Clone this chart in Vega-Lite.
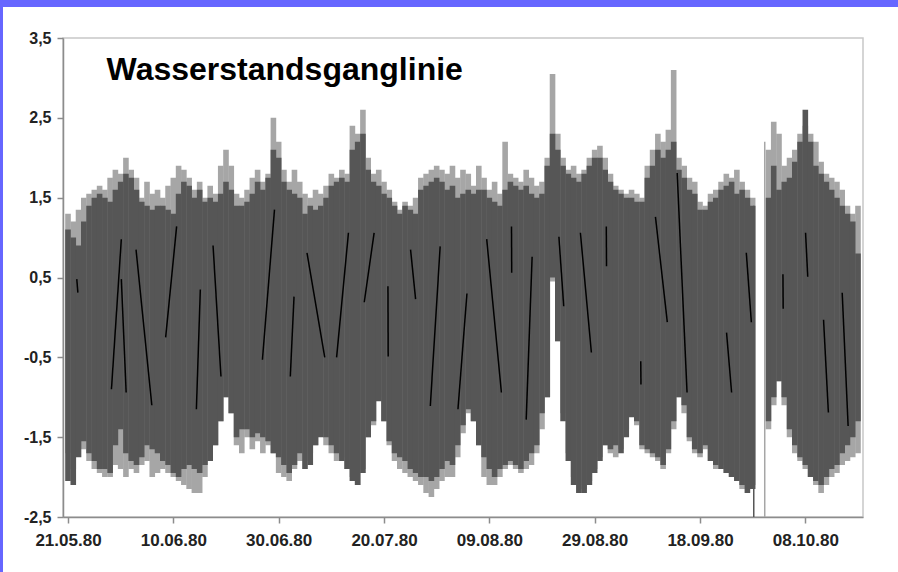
{
  "$schema": "https://vega.github.io/schema/vega-lite/v6.json",
  "padding": 0,
  "background": "white",
  "bounds": "flush",
  "spacing": 0,
  "config": {"view": {"stroke": null}, "concat": {"spacing": 0}},
  "datasets": {
    "days": [
      {"t":"1980-05-21","lh":1.3,"ll":-1.7,"dh":1.1,"dl":-2.05},
      {"t":"1980-05-22","lh":1.2,"ll":-1.9,"dh":1.0,"dl":-2.1},
      {"t":"1980-05-23","lh":1.35,"ll":-1.6,"dh":0.9,"dl":-1.75},
      {"t":"1980-05-24","lh":1.5,"ll":-1.65,"dh":1.2,"dl":-1.55},
      {"t":"1980-05-25","lh":1.55,"ll":-1.8,"dh":1.4,"dl":-1.7},
      {"t":"1980-05-26","lh":1.6,"ll":-1.9,"dh":1.5,"dl":-1.8},
      {"t":"1980-05-27","lh":1.65,"ll":-1.95,"dh":1.55,"dl":-1.9},
      {"t":"1980-05-28","lh":1.6,"ll":-2.0,"dh":1.5,"dl":-1.9},
      {"t":"1980-05-29","lh":1.75,"ll":-2.0,"dh":1.45,"dl":-1.95},
      {"t":"1980-05-30","lh":1.85,"ll":-1.85,"dh":1.6,"dl":-1.6},
      {"t":"1980-05-31","lh":1.8,"ll":-1.9,"dh":1.7,"dl":-1.4},
      {"t":"1980-06-01","lh":2.0,"ll":-2.0,"dh":1.8,"dl":-1.7},
      {"t":"1980-06-02","lh":1.85,"ll":-1.9,"dh":1.75,"dl":-1.8},
      {"t":"1980-06-03","lh":1.75,"ll":-1.95,"dh":1.6,"dl":-1.85},
      {"t":"1980-06-04","lh":1.5,"ll":-1.85,"dh":1.45,"dl":-1.75},
      {"t":"1980-06-05","lh":1.7,"ll":-1.8,"dh":1.4,"dl":-1.6},
      {"t":"1980-06-06","lh":1.55,"ll":-2.0,"dh":1.35,"dl":-1.65},
      {"t":"1980-06-07","lh":1.6,"ll":-1.95,"dh":1.4,"dl":-1.7},
      {"t":"1980-06-08","lh":1.5,"ll":-1.9,"dh":1.4,"dl":-1.8},
      {"t":"1980-06-09","lh":1.65,"ll":-1.95,"dh":1.35,"dl":-1.85},
      {"t":"1980-06-10","lh":1.75,"ll":-2.0,"dh":1.3,"dl":-1.95},
      {"t":"1980-06-11","lh":1.9,"ll":-2.05,"dh":1.55,"dl":-2.0},
      {"t":"1980-06-12","lh":1.85,"ll":-2.1,"dh":1.7,"dl":-1.9},
      {"t":"1980-06-13","lh":1.75,"ll":-2.15,"dh":1.65,"dl":-1.85},
      {"t":"1980-06-14","lh":1.6,"ll":-2.2,"dh":1.5,"dl":-1.9},
      {"t":"1980-06-15","lh":1.7,"ll":-2.2,"dh":1.6,"dl":-1.95},
      {"t":"1980-06-16","lh":1.5,"ll":-2.0,"dh":1.45,"dl":-1.85},
      {"t":"1980-06-17","lh":1.65,"ll":-1.8,"dh":1.5,"dl":-1.8},
      {"t":"1980-06-18","lh":1.55,"ll":-1.6,"dh":1.45,"dl":-1.6},
      {"t":"1980-06-19","lh":1.9,"ll":-1.3,"dh":1.55,"dl":-1.3},
      {"t":"1980-06-20","lh":2.1,"ll":-1.0,"dh":1.7,"dl":-1.0},
      {"t":"1980-06-21","lh":1.9,"ll":-1.2,"dh":1.6,"dl":-1.2},
      {"t":"1980-06-22","lh":1.55,"ll":-1.6,"dh":1.4,"dl":-1.5},
      {"t":"1980-06-23","lh":1.5,"ll":-1.7,"dh":1.4,"dl":-1.4},
      {"t":"1980-06-24","lh":1.6,"ll":-1.5,"dh":1.45,"dl":-1.4},
      {"t":"1980-06-25","lh":1.75,"ll":-1.65,"dh":1.55,"dl":-1.5},
      {"t":"1980-06-26","lh":1.85,"ll":-1.55,"dh":1.7,"dl":-1.45},
      {"t":"1980-06-27","lh":1.7,"ll":-1.7,"dh":1.6,"dl":-1.5},
      {"t":"1980-06-28","lh":1.8,"ll":-1.6,"dh":1.75,"dl":-1.55},
      {"t":"1980-06-29","lh":2.5,"ll":-1.7,"dh":2.1,"dl":-1.7},
      {"t":"1980-06-30","lh":2.2,"ll":-1.95,"dh":2.0,"dl":-1.75},
      {"t":"1980-07-01","lh":1.85,"ll":-2.0,"dh":1.7,"dl":-1.85},
      {"t":"1980-07-02","lh":1.7,"ll":-2.05,"dh":1.6,"dl":-1.95},
      {"t":"1980-07-03","lh":1.85,"ll":-1.9,"dh":1.55,"dl":-1.85},
      {"t":"1980-07-04","lh":1.7,"ll":-1.8,"dh":1.5,"dl":-1.7},
      {"t":"1980-07-05","lh":1.55,"ll":-1.8,"dh":1.3,"dl":-1.9},
      {"t":"1980-07-06","lh":1.5,"ll":-1.7,"dh":1.4,"dl":-1.85},
      {"t":"1980-07-07","lh":1.6,"ll":-1.6,"dh":1.35,"dl":-1.6},
      {"t":"1980-07-08","lh":1.55,"ll":-1.45,"dh":1.4,"dl":-1.5},
      {"t":"1980-07-09","lh":1.65,"ll":-1.6,"dh":1.5,"dl":-1.5},
      {"t":"1980-07-10","lh":1.8,"ll":-1.7,"dh":1.65,"dl":-1.6},
      {"t":"1980-07-11","lh":1.75,"ll":-1.8,"dh":1.7,"dl":-1.7},
      {"t":"1980-07-12","lh":1.85,"ll":-1.75,"dh":1.75,"dl":-1.8},
      {"t":"1980-07-13","lh":1.8,"ll":-1.9,"dh":1.7,"dl":-1.9},
      {"t":"1980-07-14","lh":2.4,"ll":-2.0,"dh":2.1,"dl":-2.05},
      {"t":"1980-07-15","lh":2.3,"ll":-2.1,"dh":2.2,"dl":-2.1},
      {"t":"1980-07-16","lh":2.6,"ll":-1.9,"dh":2.3,"dl":-1.95},
      {"t":"1980-07-17","lh":2.0,"ll":-1.5,"dh":1.85,"dl":-1.5},
      {"t":"1980-07-18","lh":1.8,"ll":-1.35,"dh":1.7,"dl":-1.3},
      {"t":"1980-07-19","lh":1.85,"ll":-1.0,"dh":1.65,"dl":-1.05},
      {"t":"1980-07-20","lh":1.7,"ll":-1.3,"dh":1.55,"dl":-1.3},
      {"t":"1980-07-21","lh":1.6,"ll":-1.6,"dh":1.5,"dl":-1.55},
      {"t":"1980-07-22","lh":1.45,"ll":-1.8,"dh":1.4,"dl":-1.7},
      {"t":"1980-07-23","lh":1.35,"ll":-1.9,"dh":1.3,"dl":-1.75},
      {"t":"1980-07-24","lh":1.45,"ll":-1.95,"dh":1.4,"dl":-1.8},
      {"t":"1980-07-25","lh":1.4,"ll":-2.0,"dh":1.35,"dl":-1.9},
      {"t":"1980-07-26","lh":1.5,"ll":-2.05,"dh":1.3,"dl":-1.95},
      {"t":"1980-07-27","lh":1.75,"ll":-2.1,"dh":1.6,"dl":-2.0},
      {"t":"1980-07-28","lh":1.8,"ll":-2.2,"dh":1.65,"dl":-2.0},
      {"t":"1980-07-29","lh":1.85,"ll":-2.25,"dh":1.7,"dl":-2.05},
      {"t":"1980-07-30","lh":1.9,"ll":-2.15,"dh":1.75,"dl":-2.0},
      {"t":"1980-07-31","lh":1.85,"ll":-2.05,"dh":1.7,"dl":-1.9},
      {"t":"1980-08-01","lh":1.8,"ll":-2.0,"dh":1.6,"dl":-1.8},
      {"t":"1980-08-02","lh":1.9,"ll":-2.0,"dh":1.65,"dl":-1.85},
      {"t":"1980-08-03","lh":1.75,"ll":-1.75,"dh":1.5,"dl":-1.6},
      {"t":"1980-08-04","lh":1.85,"ll":-1.45,"dh":1.55,"dl":-1.35},
      {"t":"1980-08-05","lh":1.8,"ll":-1.2,"dh":1.6,"dl":-1.15},
      {"t":"1980-08-06","lh":1.65,"ll":-1.3,"dh":1.55,"dl":-1.3},
      {"t":"1980-08-07","lh":1.9,"ll":-1.6,"dh":1.6,"dl":-1.6},
      {"t":"1980-08-08","lh":1.75,"ll":-2.0,"dh":1.6,"dl":-1.75},
      {"t":"1980-08-09","lh":1.6,"ll":-2.1,"dh":1.5,"dl":-1.9},
      {"t":"1980-08-10","lh":1.7,"ll":-2.1,"dh":1.45,"dl":-2.0},
      {"t":"1980-08-11","lh":1.55,"ll":-2.0,"dh":1.4,"dl":-1.9},
      {"t":"1980-08-12","lh":2.2,"ll":-1.9,"dh":1.6,"dl":-1.85},
      {"t":"1980-08-13","lh":1.8,"ll":-1.85,"dh":1.7,"dl":-1.8},
      {"t":"1980-08-14","lh":1.75,"ll":-1.9,"dh":1.65,"dl":-1.85},
      {"t":"1980-08-15","lh":1.7,"ll":-1.95,"dh":1.6,"dl":-1.9},
      {"t":"1980-08-16","lh":1.85,"ll":-1.9,"dh":1.65,"dl":-1.8},
      {"t":"1980-08-17","lh":1.75,"ll":-1.85,"dh":1.55,"dl":-1.7},
      {"t":"1980-08-18","lh":1.65,"ll":-1.7,"dh":1.5,"dl":-1.6},
      {"t":"1980-08-19","lh":1.7,"ll":-1.4,"dh":1.55,"dl":-1.2},
      {"t":"1980-08-20","lh":2.0,"ll":-1.0,"dh":1.9,"dl":-1.0},
      {"t":"1980-08-21","lh":3.05,"ll":0.45,"dh":2.3,"dl":0.5},
      {"t":"1980-08-22","lh":2.3,"ll":-0.3,"dh":2.1,"dl":-0.3},
      {"t":"1980-08-23","lh":2.0,"ll":-1.2,"dh":1.9,"dl":-1.3},
      {"t":"1980-08-24","lh":1.85,"ll":-1.7,"dh":1.8,"dl":-1.8},
      {"t":"1980-08-25","lh":1.9,"ll":-2.0,"dh":1.75,"dl":-2.1},
      {"t":"1980-08-26","lh":1.8,"ll":-2.1,"dh":1.7,"dl":-2.2},
      {"t":"1980-08-27","lh":1.85,"ll":-2.15,"dh":1.8,"dl":-2.2},
      {"t":"1980-08-28","lh":2.0,"ll":-2.05,"dh":1.9,"dl":-2.1},
      {"t":"1980-08-29","lh":2.1,"ll":-1.9,"dh":2.0,"dl":-1.95},
      {"t":"1980-08-30","lh":2.15,"ll":-1.75,"dh":2.0,"dl":-1.8},
      {"t":"1980-08-31","lh":2.0,"ll":-1.6,"dh":1.85,"dl":-1.6},
      {"t":"1980-09-01","lh":1.8,"ll":-1.7,"dh":1.7,"dl":-1.65},
      {"t":"1980-09-02","lh":1.65,"ll":-1.75,"dh":1.6,"dl":-1.6},
      {"t":"1980-09-03","lh":1.6,"ll":-1.65,"dh":1.55,"dl":-1.7},
      {"t":"1980-09-04","lh":1.55,"ll":-1.4,"dh":1.5,"dl":-1.5},
      {"t":"1980-09-05","lh":1.6,"ll":-1.2,"dh":1.5,"dl":-1.25},
      {"t":"1980-09-06","lh":1.55,"ll":-1.35,"dh":1.45,"dl":-1.3},
      {"t":"1980-09-07","lh":1.5,"ll":-1.65,"dh":1.45,"dl":-1.6},
      {"t":"1980-09-08","lh":1.9,"ll":-1.7,"dh":1.75,"dl":-1.65},
      {"t":"1980-09-09","lh":2.1,"ll":-1.75,"dh":1.9,"dl":-1.7},
      {"t":"1980-09-10","lh":2.3,"ll":-1.8,"dh":2.1,"dl":-1.75},
      {"t":"1980-09-11","lh":2.2,"ll":-1.9,"dh":2.0,"dl":-1.85},
      {"t":"1980-09-12","lh":2.35,"ll":-1.7,"dh":2.1,"dl":-1.65},
      {"t":"1980-09-13","lh":3.1,"ll":-1.4,"dh":2.2,"dl":-1.3},
      {"t":"1980-09-14","lh":2.0,"ll":-1.0,"dh":1.85,"dl":-1.0},
      {"t":"1980-09-15","lh":1.9,"ll":-1.2,"dh":1.75,"dl":-1.1},
      {"t":"1980-09-16","lh":1.75,"ll":-1.55,"dh":1.6,"dl":-1.5},
      {"t":"1980-09-17","lh":1.7,"ll":-1.7,"dh":1.55,"dl":-1.65},
      {"t":"1980-09-18","lh":1.45,"ll":-1.75,"dh":1.35,"dl":-1.7},
      {"t":"1980-09-19","lh":1.4,"ll":-1.65,"dh":1.35,"dl":-1.6},
      {"t":"1980-09-20","lh":1.55,"ll":-1.8,"dh":1.45,"dl":-1.8},
      {"t":"1980-09-21","lh":1.6,"ll":-1.9,"dh":1.5,"dl":-1.85},
      {"t":"1980-09-22","lh":1.7,"ll":-1.85,"dh":1.6,"dl":-1.9},
      {"t":"1980-09-23","lh":1.8,"ll":-1.95,"dh":1.65,"dl":-1.95},
      {"t":"1980-09-24","lh":1.75,"ll":-2.0,"dh":1.7,"dl":-2.0},
      {"t":"1980-09-25","lh":1.85,"ll":-2.05,"dh":1.55,"dl":-2.05},
      {"t":"1980-09-26","lh":1.7,"ll":-2.15,"dh":1.6,"dl":-2.1},
      {"t":"1980-09-27","lh":1.6,"ll":-2.15,"dh":1.5,"dl":-2.2},
      {"t":"1980-09-28","lh":1.5,"ll":-2.1,"dh":1.4,"dl":-2.15},
      {"t":"1980-10-01","lh":2.1,"ll":-1.4,"dh":1.5,"dl":-1.3},
      {"t":"1980-10-02","lh":2.45,"ll":-1.1,"dh":1.9,"dl":-1.0},
      {"t":"1980-10-03","lh":2.3,"ll":-0.8,"dh":1.6,"dl":-0.8},
      {"t":"1980-10-04","lh":1.9,"ll":-1.1,"dh":1.7,"dl":-1.0},
      {"t":"1980-10-05","lh":2.0,"ll":-1.5,"dh":1.75,"dl":-1.4},
      {"t":"1980-10-06","lh":2.1,"ll":-1.7,"dh":1.95,"dl":-1.6},
      {"t":"1980-10-07","lh":2.3,"ll":-1.8,"dh":2.2,"dl":-1.75},
      {"t":"1980-10-08","lh":2.4,"ll":-1.9,"dh":2.6,"dl":-1.85},
      {"t":"1980-10-09","lh":2.3,"ll":-2.0,"dh":2.2,"dl":-2.0},
      {"t":"1980-10-10","lh":2.2,"ll":-2.1,"dh":1.9,"dl":-2.05},
      {"t":"1980-10-11","lh":1.95,"ll":-2.2,"dh":1.8,"dl":-2.1},
      {"t":"1980-10-12","lh":1.8,"ll":-2.1,"dh":1.7,"dl":-2.0},
      {"t":"1980-10-13","lh":1.75,"ll":-2.0,"dh":1.6,"dl":-1.9},
      {"t":"1980-10-14","lh":1.7,"ll":-1.95,"dh":1.5,"dl":-1.85},
      {"t":"1980-10-15","lh":1.6,"ll":-1.85,"dh":1.4,"dl":-1.7},
      {"t":"1980-10-16","lh":1.4,"ll":-1.8,"dh":1.3,"dl":-1.6},
      {"t":"1980-10-17","lh":1.3,"ll":-1.75,"dh":1.2,"dl":-1.5},
      {"t":"1980-10-18","lh":1.4,"ll":-1.7,"dh":0.8,"dl":-1.3}
    ],
    "strokes": [
      {"t1":"1980-05-22T16:00Z","v1":0.48,"t2":"1980-05-22T21:00Z","v2":0.31},
      {"t1":"1980-05-31T03:00Z","v1":0.98,"t2":"1980-05-29T06:00Z","v2":-0.9},
      {"t1":"1980-05-31T03:00Z","v1":0.48,"t2":"1980-06-01T01:00Z","v2":-0.94},
      {"t1":"1980-06-02T22:00Z","v1":0.85,"t2":"1980-06-05T22:00Z","v2":-1.1},
      {"t1":"1980-06-10T15:00Z","v1":1.14,"t2":"1980-06-08T13:00Z","v2":-0.25},
      {"t1":"1980-06-15T03:00Z","v1":0.35,"t2":"1980-06-14T09:00Z","v2":-1.15},
      {"t1":"1980-06-17T13:00Z","v1":0.9,"t2":"1980-06-19T01:00Z","v2":-0.74},
      {"t1":"1980-06-29T05:00Z","v1":1.35,"t2":"1980-06-26T22:00Z","v2":-0.53},
      {"t1":"1980-07-02T22:00Z","v1":0.26,"t2":"1980-07-02T05:00Z","v2":-0.74},
      {"t1":"1980-07-05T09:00Z","v1":0.81,"t2":"1980-07-08T18:00Z","v2":-0.5},
      {"t1":"1980-07-13T06:00Z","v1":1.06,"t2":"1980-07-11T00:00Z","v2":-0.5},
      {"t1":"1980-07-18T03:00Z","v1":1.06,"t2":"1980-07-16T06:00Z","v2":0.19},
      {"t1":"1980-07-20T18:00Z","v1":0.39,"t2":"1980-07-20T19:00Z","v2":-0.49},
      {"t1":"1980-07-25T01:00Z","v1":0.85,"t2":"1980-07-26T00:00Z","v2":0.23},
      {"t1":"1980-07-30T16:00Z","v1":0.89,"t2":"1980-07-28T19:00Z","v2":-1.11},
      {"t1":"1980-08-04T18:00Z","v1":0.3,"t2":"1980-08-03T01:00Z","v2":-1.15},
      {"t1":"1980-08-08T12:00Z","v1":0.98,"t2":"1980-08-11T07:00Z","v2":-0.94},
      {"t1":"1980-08-13T05:00Z","v1":1.14,"t2":"1980-08-13T06:00Z","v2":0.56},
      {"t1":"1980-08-17T03:00Z","v1":0.76,"t2":"1980-08-16T00:00Z","v2":-1.28},
      {"t1":"1980-08-22T05:00Z","v1":1.01,"t2":"1980-08-23T03:00Z","v2":0.14},
      {"t1":"1980-08-26T07:00Z","v1":1.06,"t2":"1980-08-28T09:00Z","v2":-0.44},
      {"t1":"1980-08-31T05:00Z","v1":1.14,"t2":"1980-08-31T06:00Z","v2":0.64},
      {"t1":"1980-09-06T18:00Z","v1":-0.55,"t2":"1980-09-06T19:00Z","v2":-0.84},
      {"t1":"1980-09-09T13:00Z","v1":1.26,"t2":"1980-09-11T19:00Z","v2":-0.06},
      {"t1":"1980-09-13T16:00Z","v1":1.81,"t2":"1980-09-15T13:00Z","v2":-0.94},
      {"t1":"1980-09-23T01:00Z","v1":-0.19,"t2":"1980-09-24T00:00Z","v2":-0.94},
      {"t1":"1980-09-26T19:00Z","v1":0.81,"t2":"1980-09-27T18:00Z","v2":-0.06},
      {"t1":"1980-10-03T18:00Z","v1":0.54,"t2":"1980-10-03T19:00Z","v2":0.11},
      {"t1":"1980-10-08T01:00Z","v1":1.06,"t2":"1980-10-08T11:00Z","v2":0.51},
      {"t1":"1980-10-11T11:00Z","v1":-0.03,"t2":"1980-10-12T09:00Z","v2":-1.19},
      {"t1":"1980-10-15T00:00Z","v1":0.31,"t2":"1980-10-16T03:00Z","v2":-1.36}
    ],
    "drops": [
      {"t":"1980-09-28T05:00Z","hi":1.4,"lo":-3,"s":"dark"},
      {"t":"1980-09-30T07:00Z","hi":2.2,"lo":-3,"s":"light"}
    ],
    "label": [
      {"t":"1980-05-28T08:00Z","v":2.975,"txt":"Wasserstandsganglinie"}
    ]
  },
  "hconcat": [
    {
      "width": 3, "height": 572,
      "view": {"fill": "#6666ff", "stroke": null},
      "data": {"values": [{}]},
      "mark": {"type": "point", "opacity": 0, "size": 0},
      "encoding": {}
    },
    {
      "bounds": "flush",
      "spacing": 0,
      "vconcat": [
        {
          "width": 895, "height": 7,
          "view": {"fill": "#6666ff", "stroke": null},
          "data": {"values": [{}]},
          "mark": {"type": "point", "opacity": 0, "size": 0},
          "encoding": {}
        },
        {
          "width": 895, "height": 31,
          "data": {"values": [{}]},
          "mark": {"type": "point", "opacity": 0, "size": 0},
          "encoding": {}
        },
        {
          "bounds": "flush",
          "spacing": 0,
          "hconcat": [
            {
              "width": 60, "height": 479,
              "data": {"values": [{}]},
              "mark": {"type": "point", "opacity": 0, "size": 0},
              "encoding": {}
            },
            {
              "width": 800, "height": 479,
              "view": {"stroke": "#c8c8c8", "strokeWidth": 1.5},
              "layer": [
                {
                  "data": {"name": "days"},
                  "mark": {"type": "bar", "size": 5.6, "color": "#a6a6a6", "clip": true},
                  "encoding": {
                    "x": {
                      "field": "t", "type": "temporal",
                      "scale": {"type": "utc", "domain": [{"year": 1980, "month": 5, "date": 21, "utc": true}, {"year": 1980, "month": 10, "date": 18, "utc": true}]},
                      "axis": {
                        "title": null, "grid": false,
                        "values": [
                          {"year": 1980, "month": 5, "date": 21, "utc": true},
                          {"year": 1980, "month": 6, "date": 10, "utc": true},
                          {"year": 1980, "month": 6, "date": 30, "utc": true},
                          {"year": 1980, "month": 7, "date": 20, "utc": true},
                          {"year": 1980, "month": 8, "date": 9, "utc": true},
                          {"year": 1980, "month": 8, "date": 29, "utc": true},
                          {"year": 1980, "month": 9, "date": 18, "utc": true},
                          {"year": 1980, "month": 10, "date": 8, "utc": true}
                        ],
                        "labelExpr": "utcFormat(datum.value, '%d.%m.%y')",
                        "labelFont": "Liberation Sans", "labelFontWeight": "bold", "labelFontSize": 17,
                        "labelColor": "#222222", "labelPadding": 9, "labelFlush": false,
                        "domainColor": "#8c8c8c", "domainWidth": 1.5,
                        "tickColor": "#8c8c8c", "tickSize": 6, "tickWidth": 1.5
                      }
                    },
                    "y": {
                      "field": "ll", "type": "quantitative",
                      "scale": {"domain": [-2.5, 3.5], "nice": false, "zero": false},
                      "axis": {
                        "title": null, "grid": false,
                        "values": [-2.5, -1.5, -0.5, 0.5, 1.5, 2.5, 3.5],
                        "labelExpr": "replace(replace(format(datum.value, '.1f'), '.', ','), '\u2212', '-')",
                        "labelFont": "Liberation Sans", "labelFontWeight": "bold", "labelFontSize": 16,
                        "labelColor": "#222222", "labelPadding": 6,
                        "domainColor": "#8c8c8c", "domainWidth": 1.5,
                        "tickColor": "#8c8c8c", "tickSize": 6, "tickWidth": 1.5
                      }
                    },
                    "y2": {"field": "lh"}
                  }
                },
                {
                  "data": {"name": "days"},
                  "mark": {"type": "bar", "size": 5.6, "color": "#565656", "clip": true},
                  "encoding": {
                    "x": {"field": "t", "type": "temporal"},
                    "y": {"field": "dl", "type": "quantitative"},
                    "y2": {"field": "dh"}
                  }
                },
                {
                  "data": {"name": "drops"},
                  "mark": {"type": "rule", "strokeWidth": 1.5, "clip": true},
                  "encoding": {
                    "x": {"field": "t", "type": "temporal"},
                    "y": {"field": "lo", "type": "quantitative"},
                    "y2": {"field": "hi"},
                    "color": {"field": "s", "type": "nominal", "scale": {"domain": ["light", "dark"], "range": ["#a6a6a6", "#565656"]}, "legend": null}
                  }
                },
                {
                  "data": {"name": "strokes"},
                  "mark": {"type": "rule", "color": "black", "strokeWidth": 1.5, "clip": true},
                  "encoding": {
                    "x": {"field": "t1", "type": "temporal"},
                    "x2": {"field": "t2"},
                    "y": {"field": "v1", "type": "quantitative"},
                    "y2": {"field": "v2"}
                  }
                },
                {
                  "mark": {"type": "rule", "color": "black", "strokeWidth": 2},
                  "encoding": {"y": {"datum": 0}}
                },
                {
                  "data": {"name": "label"},
                  "mark": {"type": "text", "align": "left", "baseline": "alphabetic", "font": "Liberation Sans", "fontWeight": "bold", "fontSize": 32, "color": "black"},
                  "encoding": {
                    "x": {"field": "t", "type": "temporal"},
                    "y": {"field": "v", "type": "quantitative"},
                    "text": {"field": "txt"}
                  }
                }
              ]
            }
          ]
        }
      ]
    }
  ]
}
